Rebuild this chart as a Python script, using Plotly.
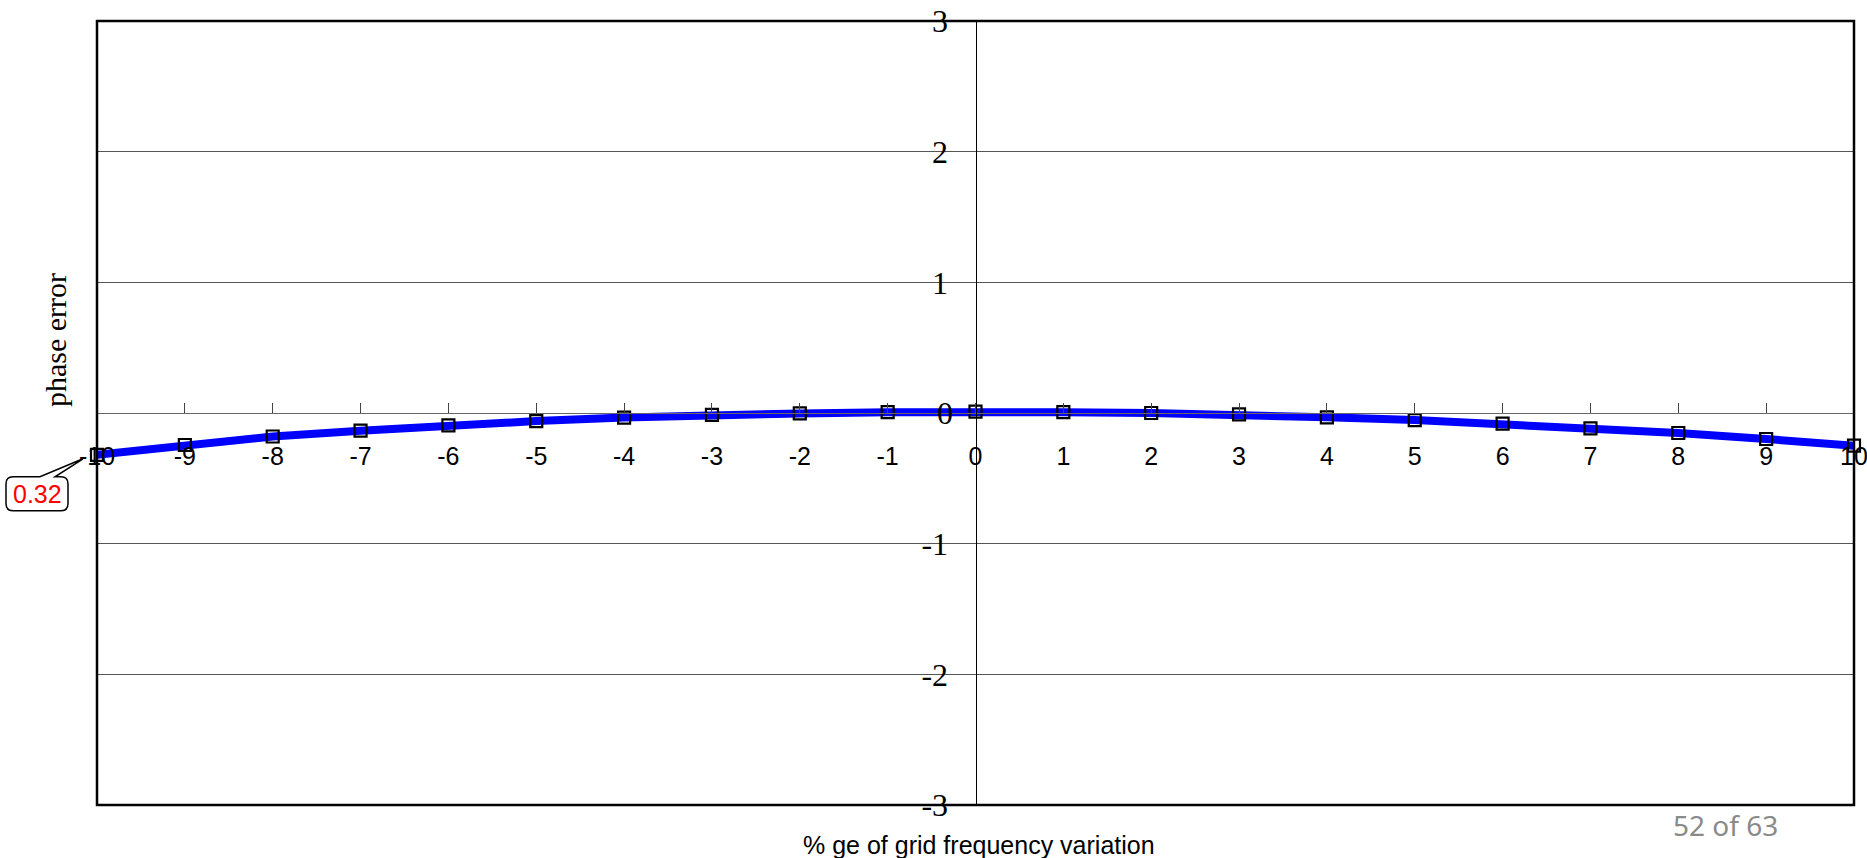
import plotly.graph_objects as go

# % grid frequency variation and the resulting phase error
freq_var = [-10, -9, -8, -7, -6, -5, -4, -3, -2, -1, 0, 1, 2, 3, 4, 5, 6, 7, 8, 9, 10]
phase_err = [-0.32, -0.245, -0.18, -0.135, -0.094, -0.062, -0.035, -0.015, -0.003, 0.006, 0.01,
             0.006, 0.0, -0.01, -0.033, -0.054, -0.082, -0.117, -0.153, -0.199, -0.25]

x_ticks = list(range(-10, 11))
y_ticks = [-3, -2, -1, 0, 1, 2, 3]
x_range = [-10, 10]
y_range = [-3, 3]

W, H = 1867, 858
ML, MR, MT, MB = 97, 13, 21, 53
PW, PH = W - ML - MR, H - MT - MB

Y_FONT = dict(family="Liberation Serif, Times New Roman", size=32, color="black")

fig = go.Figure()
fig.add_trace(go.Scatter(
    x=freq_var, y=phase_err, mode="lines+markers",
    line=dict(color="#0000ff", width=8),
    marker=dict(symbol="square-open", size=12, color="black", line=dict(color="black", width=2.2)),
    cliponaxis=False, showlegend=False, hoverinfo="skip",
))

# the origin label is placed separately, plotly shifts it at the axis crossing
y_text = [str(v) if v != 0 else "" for v in y_ticks]

# axes cross in the middle of the plot; labels sit on top of the curve
fig.update_xaxes(
    range=x_range, tickvals=x_ticks, ticktext=[str(v) for v in x_ticks],
    anchor="free", position=0.5, showline=True, linecolor="#666666", linewidth=1,
    ticks="inside", ticklen=10, tickcolor="#444444", tickwidth=1,
    ticklabelstandoff=21, automargin=False, ticklabeloverflow="allow",
    tickfont=dict(family="Liberation Sans, Arial", size=25, color="black"),
    showgrid=False, zeroline=False, layer="above traces",
)
fig.update_yaxes(
    range=y_range, tickvals=y_ticks, ticktext=y_text,
    anchor="free", position=0.5, side="left", showline=True, linecolor="black", linewidth=1,
    ticks="", ticklabelstandoff=21, automargin=False, ticklabeloverflow="allow",
    tickfont=Y_FONT,
    showgrid=True, gridcolor="#555555", gridwidth=1, zeroline=False, layer="above traces",
)
fig.add_annotation(x=0, y=0, xref="x", yref="y", text="0", showarrow=False,
                   xanchor="right", yanchor="middle", xshift=-21, font=Y_FONT)

# outer frame
fig.add_shape(type="rect", xref="paper", yref="paper", x0=0, x1=1, y0=0, y1=1,
              line=dict(color="black", width=2.5), layer="above")

# callout for the first point
cx, cy = freq_var[0], phase_err[0]
px = (cx - x_range[0]) / (x_range[1] - x_range[0])
py = (cy - y_range[0]) / (y_range[1] - y_range[0])
callout = ("M -84,-22 L -57,-22 L -14,-4 L -42,-22 L -36,-22 Q -29,-22 -29,-29 "
           "L -29,-49 Q -29,-56 -36,-56 L -84,-56 Q -91,-56 -91,-49 L -91,-29 Q -91,-22 -84,-22 Z")
fig.add_shape(type="path", xref="paper", yref="paper", xsizemode="pixel", ysizemode="pixel",
              xanchor=px, yanchor=py, path=callout,
              fillcolor="white", line=dict(color="black", width=1.5), layer="above")
fig.add_annotation(x=cx, y=cy, xref="x", yref="y", text=f"{abs(cy):.2f}", showarrow=False,
                   xshift=-60, yshift=-39,
                   font=dict(family="Liberation Sans, Arial", size=25, color="red"))

# axis titles and page number
fig.add_annotation(x=(55 - ML) / PW, y=(H - MB - 340) / PH,
                   xref="paper", yref="paper", text="phase error", textangle=-90, showarrow=False,
                   yanchor="middle", xanchor="center",
                   font=dict(family="Liberation Serif, Times New Roman", size=30, color="black"))
fig.add_annotation(x=(979 - ML) / PW, y=(H - MB - 845) / PH, xref="paper", yref="paper",
                   xanchor="center", yanchor="middle",
                   text="% ge of grid frequency variation", showarrow=False,
                   font=dict(family="Liberation Sans, Arial", size=25, color="black"))
fig.add_annotation(x=(1725 - ML) / PW, y=(H - MB - 825) / PH, xref="paper", yref="paper",
                   xanchor="center", yanchor="middle", text="52 of 63",
                   showarrow=False, font=dict(family="Noto Sans", size=28, color="#8a8a8a"))

fig.update_layout(
    width=W, height=H, margin=dict(l=ML, r=MR, t=MT, b=MB, autoexpand=False),
    paper_bgcolor="white", plot_bgcolor="white",
)

fig.write_html("out.html")
